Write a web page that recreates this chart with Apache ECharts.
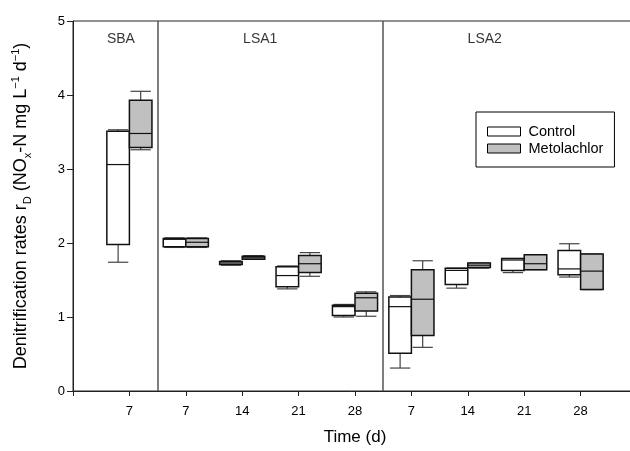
<!DOCTYPE html>
<html>
<head>
    <meta charset="utf-8">
    <title>Denitrification rates</title>
    <script src="https://cdn.jsdelivr.net/npm/echarts@6/dist/echarts.min.js"></script>
</head>
<body style="margin:0">
<div id="main" style="width: 630px;height:451px;"></div>
<script type="text/javascript">

    // x tick labels (days), one per box pair, at positions 1..9
    var dayLabels = ['7', '7', '14', '21', '28', '7', '14', '21', '28'];
    var sections = ['SBA', 'LSA1', 'LSA2'];
    var sectionPos = [0.85, 3.32, 7.3];
    var separators = [1.5, 5.5];

    // [min, q1, median, q3, max]
    var control = [
        [1.74, 1.98, 3.06, 3.51, 3.53],
        [1.94, 1.95, 2.05, 2.06, 2.07],
        [1.70, 1.71, 1.73, 1.75, 1.76],
        [1.38, 1.41, 1.56, 1.68, 1.69],
        [1.00, 1.02, 1.14, 1.16, 1.17],
        [0.31, 0.51, 1.14, 1.27, 1.29],
        [1.39, 1.44, 1.63, 1.66, 1.66],
        [1.60, 1.63, 1.77, 1.79, 1.79],
        [1.54, 1.57, 1.65, 1.90, 1.99]
    ];
    var metolachlor = [
        [3.26, 3.29, 3.48, 3.93, 4.05],
        [1.94, 1.95, 2.01, 2.06, 2.07],
        [1.78, 1.78, 1.80, 1.82, 1.83],
        [1.55, 1.60, 1.72, 1.83, 1.87],
        [1.01, 1.08, 1.26, 1.32, 1.34],
        [0.59, 0.75, 1.24, 1.64, 1.76],
        [1.66, 1.67, 1.70, 1.73, 1.73],
        [1.64, 1.64, 1.72, 1.84, 1.84],
        [1.37, 1.37, 1.62, 1.85, 1.85]
    ];

    var FONT = '"Liberation Sans", Arial, sans-serif';

    function toData(rows) {
        return rows.map(function (r, i) {
            return [i + 1].concat(r);
        });
    }

    function boxRenderer(offset, fill) {
        return function (params, api) {
            var x = api.value(0) + offset;
            var pMin = api.coord([x, api.value(1)]);
            var pQ1 = api.coord([x, api.value(2)]);
            var pMed = api.coord([x, api.value(3)]);
            var pQ3 = api.coord([x, api.value(4)]);
            var pMax = api.coord([x, api.value(5)]);
            var w = api.size([0.4, 0])[0];
            var cx = pMed[0];
            var capW = w * 0.9;
            var whisk = { stroke: '#444', lineWidth: 1.2 };
            return {
                type: 'group',
                children: [
                    { type: 'line', shape: { x1: cx, y1: pMin[1], x2: cx, y2: pQ1[1] }, style: whisk },
                    { type: 'line', shape: { x1: cx, y1: pQ3[1], x2: cx, y2: pMax[1] }, style: whisk },
                    { type: 'line', shape: { x1: cx - capW / 2, y1: pMin[1], x2: cx + capW / 2, y2: pMin[1] }, style: whisk },
                    { type: 'line', shape: { x1: cx - capW / 2, y1: pMax[1], x2: cx + capW / 2, y2: pMax[1] }, style: whisk },
                    {
                        type: 'rect',
                        shape: { x: cx - w / 2, y: pQ3[1], width: w, height: pQ1[1] - pQ3[1] },
                        style: { fill: fill, stroke: '#111', lineWidth: 1.5 }
                    },
                    { type: 'line', shape: { x1: cx - w / 2, y1: pMed[1], x2: cx + w / 2, y2: pMed[1] }, style: { stroke: '#111', lineWidth: 1.2 } }
                ]
            };
        };
    }

    var myChart = echarts.init(document.getElementById('main'));

    var option = {
        animation: false,
        textStyle: { fontFamily: FONT, color: '#000' },
        grid: {
            left: 73, top: 21, width: 564, bottom: 60,
            outerBoundsMode: 'none',
            show: true, borderColor: '#222', borderWidth: 1
        },
        legend: {
            data: [
                { name: 'Control', itemStyle: { color: '#fff', borderColor: '#000', borderWidth: 1 } },
                { name: 'Metolachlor', itemStyle: { color: '#c0c0c0', borderColor: '#000', borderWidth: 1 } }
            ],
            orient: 'vertical',
            left: 476, top: 112,
            icon: 'rect',
            itemWidth: 33, itemHeight: 9, itemGap: 2,
            padding: [12, 11, 11, 11],
            borderColor: '#000', borderWidth: 1,
            textStyle: { fontFamily: FONT, fontSize: 14.5, color: '#000', lineHeight: 14, padding: [0, 0, 0, 3] }
        },
        xAxis: {
            type: 'value',
            min: 0, max: 10, interval: 1,
            name: 'Time (d)',
            nameLocation: 'middle',
            nameGap: 38,
            nameTextStyle: { fontFamily: FONT, fontSize: 17, color: '#000' },
            axisLine: { lineStyle: { color: '#222', width: 1 } },
            axisTick: { length: 5, lineStyle: { color: '#222' } },
            axisLabel: {
                fontFamily: FONT, fontSize: 13, color: '#000', margin: 14,
                formatter: function (v) { return dayLabels[v - 1] || ''; }
            },
            splitLine: { show: false }
        },
        yAxis: {
            type: 'value',
            min: 0, max: 5, interval: 1,
            name: '{n|Denitrification rates r}{sub|D}{n| (NO}{sub|x}{n|-N mg L}{sup|−1}{n| d}{sup|−1}{n|)}',
            nameLocation: 'middle',
            nameRotate: 90,
            nameGap: 40,
            nameTextStyle: {
                fontFamily: FONT, fontSize: 18, color: '#000',
                rich: {
                    n: { fontFamily: FONT, fontSize: 18, color: '#000', lineHeight: 23, verticalAlign: 'middle' },
                    sub: { fontFamily: FONT, fontSize: 11, color: '#000', lineHeight: 11, verticalAlign: 'bottom' },
                    sup: { fontFamily: FONT, fontSize: 11, color: '#000', lineHeight: 11, verticalAlign: 'top' }
                }
            },
            axisLine: { show: true, lineStyle: { color: '#222', width: 1 } },
            axisTick: { show: true, length: 6, lineStyle: { color: '#222' } },
            axisLabel: { fontFamily: FONT, fontSize: 13, color: '#000', margin: 8 },
            splitLine: { show: false }
        },
        series: [{
            name: 'Control',
            type: 'custom',
            itemStyle: { color: '#fff', borderColor: '#000', borderWidth: 1 },
            renderItem: boxRenderer(-0.2, '#fff'),
            encode: { x: 0, y: [1, 2, 3, 4, 5] },
            data: toData(control),
            markLine: {
                silent: true,
                symbol: 'none',
                label: { show: false },
                lineStyle: { color: '#555', width: 1.5, type: 'solid' },
                data: separators.map(function (s) { return { xAxis: s }; })
            }
        }, {
            name: 'Metolachlor',
            type: 'custom',
            itemStyle: { color: '#c0c0c0', borderColor: '#000', borderWidth: 1 },
            renderItem: boxRenderer(0.2, '#c0c0c0'),
            encode: { x: 0, y: [1, 2, 3, 4, 5] },
            data: toData(metolachlor)
        }, {
            name: 'sections',
            type: 'scatter',
            symbolSize: 0,
            silent: true,
            label: {
                show: true, position: 'inside',
                fontFamily: FONT, fontSize: 14, color: '#000',
                formatter: function (p) { return p.data[2]; }
            },
            data: sections.map(function (s, i) { return [sectionPos[i], 4.76, s]; })
        }]
    };

    myChart.setOption(option);
</script>
</body>
</html>
